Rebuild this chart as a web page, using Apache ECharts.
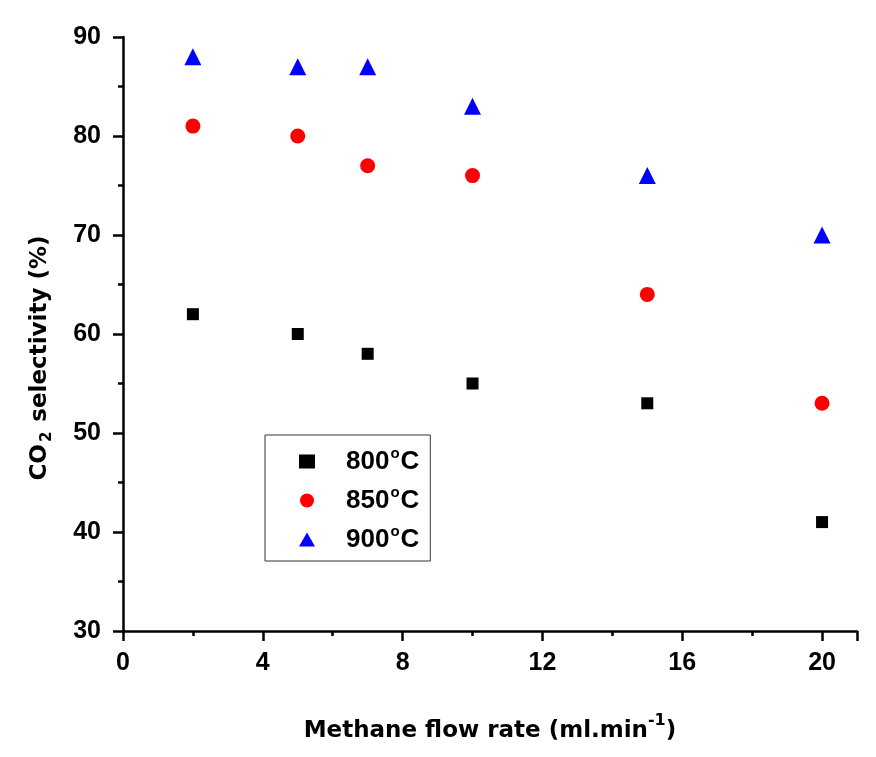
<!DOCTYPE html>
<html>
<head>
    <meta charset="utf-8">
    <title>CO2 selectivity</title>
    <script src="https://cdn.jsdelivr.net/npm/echarts@6/dist/echarts.min.js"></script>
    <style>
        html, body { margin: 0; padding: 0; background: #fff; }
        #chart1 { width: 876px; height: 757px; }
    </style>
</head>
<body>
<div id="chart1"></div>
<script type="text/javascript">
    // 甲烷流量 (ml/min)
    var flowRates = [2, 5, 7, 10, 15, 20];
    var sel800 = [62, 60, 58, 55, 53, 41];
    var sel850 = [81, 80, 77, 76, 64, 53];
    var sel900 = [88, 87, 87, 83, 76, 70];
    var seriesNames = ['800', '850', '900'];

    function pairs(ys) {
        return flowRates.map(function (x, i) { return [x, ys[i]]; });
    }

    var font = 'Liberation Sans, Arial, sans-serif';
    var titleFont = 'DejaVu Sans, sans-serif';
    var myChart1 = echarts.init(document.getElementById('chart1'));

    var axisCommon = {
        axisLine: { show: true, lineStyle: { color: '#000', width: 2.5 } },
        axisTick: { show: true, inside: false, length: 10, lineStyle: { color: '#000', width: 2.5 } },
        minorTick: { show: true, splitNumber: 2, length: 5, lineStyle: { color: '#000', width: 2.5 } },
        splitLine: { show: false },
        axisLabel: { color: '#000', fontFamily: font, fontWeight: 'bold', fontSize: 25 }
    };

    myChart1.setOption({
        animation: false,
        backgroundColor: '#fff',
        grid: { left: 123, top: 37, right: 19, bottom: 126 },
        legend: {
            orient: 'vertical',
            left: 265,
            top: 435,
            padding: [11, 11, 6, 34],
            itemGap: 8,
            itemWidth: 16,
            itemHeight: 14,
            borderColor: '#333',
            borderWidth: 1,
            data: seriesNames,
            formatter: function (n) { return '{t|' + n + '}{s|o}{t|C}'; },
            textStyle: {
                padding: [0, 0, 0, 26],
                rich: {
                    t: { fontFamily: font, fontWeight: 'bold', fontSize: 26, color: '#000', lineHeight: 31 },
                    s: { fontFamily: font, fontWeight: 'bold', fontSize: 15, color: '#000', lineHeight: 15, padding: [0, 1, 16, 1] }
                }
            }
        },
        xAxis: Object.assign({}, axisCommon, {
            type: 'value',
            min: 0,
            max: 21,
            interval: 4,
            name: '{t|Methane flow rate (ml.min}{s|-1}{t|)}',
            nameLocation: 'middle',
            nameGap: 82,
            nameTextStyle: {
                rich: {
                    t: { fontFamily: titleFont, fontWeight: 'bold', fontSize: 23, color: '#000' },
                    s: { fontFamily: titleFont, fontWeight: 'bold', fontSize: 16, color: '#000', padding: [0, 0, 20, 0] }
                }
            },
            axisLabel: Object.assign({}, axisCommon.axisLabel, {
                margin: 20,
                showMaxLabel: false
            })
        }),
        yAxis: Object.assign({}, axisCommon, {
            type: 'value',
            min: 30,
            max: 90,
            interval: 10,
            name: '{t|CO}{s|2}{t| selectivity (%)}',
            nameLocation: 'middle',
            nameGap: 68,
            nameRotate: 90,
            nameTextStyle: {
                padding: [0, 48, 0, 0],
                rich: {
                    t: { fontFamily: titleFont, fontWeight: 'bold', fontSize: 23, color: '#000' },
                    s: { fontFamily: titleFont, fontWeight: 'bold', fontSize: 15, color: '#000', padding: [14, 2, 0, 2] }
                }
            },
            axisLabel: Object.assign({}, axisCommon.axisLabel, { margin: 22 })
        }),
        series: [
            {
                name: '800', type: 'scatter', symbol: 'rect', symbolSize: 12,
                itemStyle: { color: '#000', opacity: 1 }, data: pairs(sel800)
            },
            {
                name: '850', type: 'scatter', symbol: 'circle', symbolSize: 15,
                itemStyle: { color: '#ff0000', opacity: 1 }, data: pairs(sel850)
            },
            {
                name: '900', type: 'scatter', symbol: 'triangle', symbolSize: 17,
                itemStyle: { color: '#0000ff', opacity: 1 }, data: pairs(sel900)
            }
        ]
    });
</script>
</body>
</html>
